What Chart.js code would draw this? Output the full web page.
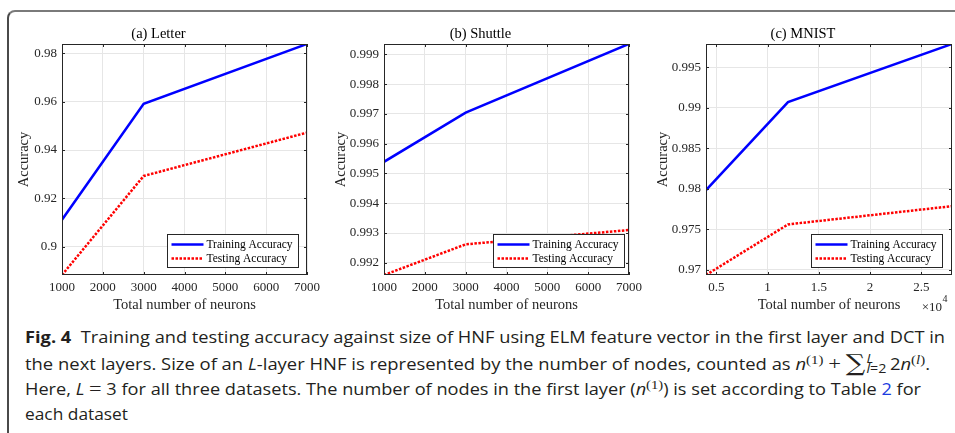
<!DOCTYPE html>
<html>
<head>
<meta charset="utf-8">
<script src="https://cdn.jsdelivr.net/npm/chart.js@4.4.0/dist/chart.umd.min.js"></script>
<style>
  html, body { margin: 0; padding: 0; background: #fff; width: 955px; height: 433px; overflow: hidden; }
  #frame {
    position: absolute; left: 7px; top: 10px; width: 1000px; height: 500px;
    border-top: 2px solid #7a7a7a; border-left: 2px solid #4a4a4a; border-top-left-radius: 8px;
  }
  canvas { position: absolute; top: 14px; }
  #caption {
    position: absolute; left: 25px; top: 325px;
    font-family: "Open Sans", sans-serif; font-size: 15.5px; color: #231f20;
  }
  .ln { white-space: nowrap; height: 25.5px; line-height: 25.5px; transform-origin: 0 0; width: max-content; }
  .m { font-family: "Liberation Serif", serif; font-size: 19px; }
  .sig { font-family: "DejaVu Serif", serif; font-size: 23px; line-height: 0; vertical-align: -1px; }
  .ss { display: inline-flex; flex-direction: column; vertical-align: 7px; font-size: 12px; line-height: 10px; margin: 0 3px 0 1px; }
  sup { font-size: 12px; line-height: 0; }
  .lnk { color: #1a3ce0; }
</style>
</head>
<body>
<div id="frame"></div>
<canvas id="ca" width="315" height="300" style="left:10px"></canvas>
<canvas id="cb" width="315" height="300" style="left:332px"></canvas>
<canvas id="cc" width="301" height="300" style="left:654px"></canvas>

<div id="caption">
  <div class="ln" data-w="920"><b>Fig. 4</b>&nbsp; Training and testing accuracy against size of HNF using ELM feature vector in the first layer and DCT in</div>
  <div class="ln" data-w="905">the next layers. Size of an <i>L</i>-layer HNF is represented by the number of nodes, counted as <i>n</i><sup class="m" style="font-size:12.5px">(1)</sup> <span class="m">+</span> <span class="sig">&sum;</span><span class="ss"><i>L</i><span><i>l</i>=2</span></span>2<i>n</i><sup class="m" style="font-size:12.5px">(<i>l</i>)</sup>.</div>
  <div class="ln" data-w="896">Here, <i>L</i> <span class="m">=</span> 3 for all three datasets. The number of nodes in the first layer (<i>n</i><sup class="m" style="font-size:12.5px">(1)</sup>) is set according to Table <span class="lnk">2</span> for</div>
  <div class="ln" data-w="103">each dataset</div>
</div>

<script>
// (a) Letter
const xLetter        = [1000, 3000, 7000];
const trainLetter    = [0.9112, 0.9591, 0.9838];
const testLetter     = [0.8884, 0.9293, 0.9472];
const xTicksLetter   = [1000, 2000, 3000, 4000, 5000, 6000, 7000];
const yTicksLetter   = [0.9, 0.92, 0.94, 0.96, 0.98];

// (b) Shuttle
const xShuttle       = [1000, 3000, 7000];
const trainShuttle   = [0.99539, 0.99704, 0.99935];
const testShuttle    = [0.99159, 0.99262, 0.99310];
const xTicksShuttle  = [1000, 2000, 3000, 4000, 5000, 6000, 7000];
const yTicksShuttle  = [0.992, 0.993, 0.994, 0.995, 0.996, 0.997, 0.998, 0.999];

// (c) MNIST
const xMnist         = [4000, 12000, 28000];
const trainMnist     = [0.97985, 0.9907, 0.99787];
const testMnist      = [0.96938, 0.97562, 0.97787];
const xTicksMnist    = [5000, 10000, 15000, 20000, 25000];
const xTickLabelsMnist = ["0.5", "1", "1.5", "2", "2.5"];
const yTicksMnist    = [0.97, 0.975, 0.98, 0.985, 0.99, 0.995];

const TEXT = "#262626";
const SERIF = "'Liberation Serif', 'Times New Roman', serif";

// MATLAB-style box, inward ticks, legend in the lower right, optional x exponent
const matlabBox = {
  id: "matlabBox",
  afterDraw(chart, args, opts) {
    const { ctx, chartArea: a, scales: { x, y } } = chart;
    ctx.save();
    ctx.strokeStyle = TEXT;
    ctx.lineWidth = 1;
    ctx.beginPath();
    x.ticks.forEach(t => {
      const px = Math.round(x.getPixelForValue(t.value)) + 0.5;
      ctx.moveTo(px, a.bottom); ctx.lineTo(px, a.bottom - 3);
      ctx.moveTo(px, a.top);    ctx.lineTo(px, a.top + 3);
    });
    y.ticks.forEach(t => {
      const py = Math.round(y.getPixelForValue(t.value)) + 0.5;
      ctx.moveTo(a.left, py);  ctx.lineTo(a.left + 3, py);
      ctx.moveTo(a.right, py); ctx.lineTo(a.right - 3, py);
    });
    ctx.stroke();
    ctx.strokeRect(a.left + 0.5, a.top + 0.5, a.width - 1, a.height - 1);

    // legend
    const ds = chart.data.datasets;
    ctx.font = "11.5px " + SERIF;
    const tw = Math.max(...ds.map(d => ctx.measureText(d.label).width));
    const w = Math.round(4 + 32 + 4 + tw + 5), h = 33;
    const bx = Math.round(a.right - opts.legendRight - w) + 0.5;
    const by = Math.round(a.bottom - 8 - h) + 0.5;
    ctx.fillStyle = "#fff";
    ctx.fillRect(bx, by, w, h);
    ctx.strokeStyle = TEXT;
    ctx.lineWidth = 1;
    ctx.strokeRect(bx, by, w, h);
    ds.forEach((d, i) => {
      const ly = by + 10 + i * 14;
      ctx.beginPath();
      ctx.strokeStyle = d.borderColor;
      ctx.lineWidth = d.borderWidth;
      ctx.setLineDash(d.borderDash || []);
      ctx.moveTo(bx + 4, ly); ctx.lineTo(bx + 36, ly);
      ctx.stroke();
      ctx.setLineDash([]);
      ctx.fillStyle = "#000";
      ctx.textBaseline = "middle";
      ctx.textAlign = "left";
      ctx.fillText(d.label, bx + 39, ly + 0.5);
    });

    if (opts.exponent) {
      ctx.fillStyle = TEXT;
      ctx.textBaseline = "alphabetic";
      ctx.textAlign = "right";
      ctx.font = "13px " + SERIF;
      ctx.fillText("\u00d710", a.right - 10, 297);
      ctx.textAlign = "left";
      ctx.font = "10px " + SERIF;
      ctx.fillText(opts.exponent, a.right - 9.5, 288);
    }
    ctx.restore();
  },
};

function makeChart(id, cfg) {
  return new Chart(document.getElementById(id), {
    type: "line",
    data: {
      datasets: [
        {
          label: "Training Accuracy",
          data: cfg.xs.map((v, i) => ({ x: v, y: cfg.train[i] })),
          borderColor: "#0000ff",
          borderWidth: 2.5,
          pointRadius: 0,
          tension: 0,
        },
        {
          label: "Testing Accuracy",
          data: cfg.xs.map((v, i) => ({ x: v, y: cfg.test[i] })),
          borderColor: "#ff0000",
          borderWidth: 2.5,
          borderDash: [2.5, 1.5],
          pointRadius: 0,
          tension: 0,
        },
      ],
    },
    options: {
      responsive: false,
      animation: false,
      devicePixelRatio: 1,
      layout: { padding: { left: 0, right: cfg.padRight, top: 0, bottom: 0 } },
      plugins: {
        legend: { display: false },
        tooltip: { enabled: false },
        title: {
          display: true,
          text: cfg.title,
          color: "#000",
          font: { family: SERIF, size: 14.5, weight: "normal", lineHeight: 1.2 },
          padding: { top: 11.8, bottom: 0.8 },
        },
        matlabBox: { legendRight: cfg.legendRight, exponent: cfg.exponent },
      },
      scales: {
        x: {
          type: "linear",
          min: cfg.xMin,
          max: cfg.xMax,
          afterBuildTicks: ax => { ax.ticks = cfg.xTicks.map(v => ({ value: v })); },
          afterFit: ax => { ax.height = 39; ax.paddingLeft = 0; ax.paddingRight = 0; },
          ticks: {
            color: TEXT,
            font: { family: SERIF, size: 13 },
            padding: 4.5,
            maxRotation: 0,
            autoSkip: false,
            callback: (v, i) => cfg.xLabels ? cfg.xLabels[i] : String(v),
          },
          grid: { color: "#e6e6e6", drawTicks: false },
          border: { display: false },
          title: {
            display: true,
            text: "Total number of neurons",
            color: TEXT,
            font: { family: SERIF, size: 14.5, lineHeight: 1.2 },
            padding: { top: 0, bottom: 0 },
          },
        },
        y: {
          type: "linear",
          min: cfg.yMin,
          max: cfg.yMax,
          afterBuildTicks: ax => { ax.ticks = cfg.yTicks.map(v => ({ value: v })); },
          afterFit: ax => { ax.width = 52; ax.paddingTop = 0; ax.paddingBottom = 0; },
          ticks: {
            color: TEXT,
            font: { family: SERIF, size: 13 },
            padding: 5,
            autoSkip: false,
            callback: v => String(v),
          },
          grid: { color: "#e6e6e6", drawTicks: false },
          border: { display: false },
          title: {
            display: true,
            text: "Accuracy",
            color: TEXT,
            font: { family: SERIF, size: 14.5, lineHeight: 1.2 },
            padding: { top: cfg.yTitlePad, bottom: 0 },
          },
        },
      },
    },
    plugins: [matlabBox],
  });
}

makeChart("ca", {
  title: "(a) Letter", xs: xLetter, train: trainLetter, test: testLetter,
  xMin: 1000, xMax: 7000, xTicks: xTicksLetter,
  yMin: 0.8884, yMax: 0.9838, yTicks: yTicksLetter,
  padRight: 18, legendRight: 9, yTitlePad: 5.3,
});

makeChart("cb", {
  title: "(b) Shuttle", xs: xShuttle, train: trainShuttle, test: testShuttle,
  xMin: 1000, xMax: 7000, xTicks: xTicksShuttle,
  yMin: 0.99159, yMax: 0.999346, yTicks: yTicksShuttle,
  padRight: 18, legendRight: 5, yTitlePad: 0,
});

makeChart("cc", {
  title: "(c) MNIST", xs: xMnist, train: trainMnist, test: testMnist,
  xMin: 4000, xMax: 28000, xTicks: xTicksMnist, xLabels: xTickLabelsMnist,
  yMin: 0.96938, yMax: 0.99787, yTicks: yTicksMnist,
  padRight: 3, legendRight: 10, yTitlePad: 0.3, exponent: "4",
});

// squeeze each caption line to the width it has in the original column
document.querySelectorAll("#caption .ln").forEach(ln => {
  const w = ln.getBoundingClientRect().width;
  ln.style.transform = "scaleX(" + (Number(ln.dataset.w) / w) + ")";
});
</script>
</body>
</html>
